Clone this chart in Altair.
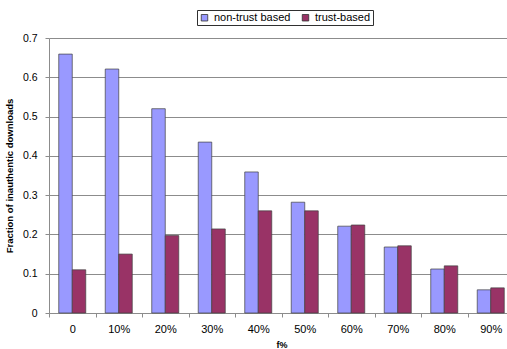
import altair as alt
import pandas as pd

# f% levels on the x axis
categories = ["0", "10%", "20%", "30%", "40%", "50%", "60%", "70%", "80%", "90%"]
series_names = ["non-trust based", "trust-based"]
series_colors = ["#9999FF", "#993366"]

# fraction of inauthentic downloads per f% level
non_trust = [0.659, 0.621, 0.520, 0.435, 0.359, 0.282, 0.221, 0.168, 0.112, 0.059]
trust = [0.110, 0.150, 0.197, 0.214, 0.260, 0.260, 0.224, 0.171, 0.120, 0.064]

rows = []
for cat, a, b in zip(categories, non_trust, trust):
    rows.append({"f": cat, "series": series_names[0], "value": a})
    rows.append({"f": cat, "series": series_names[1], "value": b})
df = pd.DataFrame(rows)

FONT = "Liberation Sans"
GRID = "#8c8c8c"

chart = (
    alt.Chart(df)
    .mark_bar(stroke="#404040", strokeWidth=0.7)
    .encode(
        x=alt.X(
            "f:N",
            sort=categories,
            scale=alt.Scale(range=[0, 465], paddingInner=0, paddingOuter=0),
            axis=alt.Axis(
                title="f%",
                titleFontWeight="bold",
                titleFontSize=9,
                titleFont=FONT,
                titlePadding=6,
                labelAngle=0,
                labelFont=FONT,
                labelFontSize=11,
                labelColor="#000000",
                labelPadding=6,
                tickBand="extent",
                tickSize=4,
                tickColor=GRID,
                domainColor=GRID,
                grid=False,
            ),
        ),
        xOffset=alt.XOffset(
            "series:N",
            sort=series_names,
            scale=alt.Scale(paddingInner=0, paddingOuter=0.722),
        ),
        y=alt.Y(
            "value:Q",
            scale=alt.Scale(domain=[0, 0.7], nice=False),
            axis=alt.Axis(
                title="Fraction of inauthentic downloads",
                titleFontWeight="bold",
                titleFontSize=9.5,
                titleFont=FONT,
                titlePadding=8,
                values=[0, 0.1, 0.2, 0.3, 0.4, 0.5, 0.6, 0.7],
                format=".1~f",
                labelFont=FONT,
                labelFontSize=10.5,
                labelColor="#000000",
                labelPadding=8,
                tickSize=4,
                tickColor=GRID,
                domainColor=GRID,
                gridColor=GRID,
                gridWidth=1,
            ),
        ),
        color=alt.Color(
            "series:N",
            sort=series_names,
            scale=alt.Scale(domain=series_names, range=series_colors),
            legend=alt.Legend(
                title=None,
                orient="none",
                legendX=148,
                legendY=-28,
                direction="horizontal",
                symbolType="square",
                symbolSize=42,
                symbolStrokeColor="#303030",
                symbolStrokeWidth=0.8,
                labelFont=FONT,
                labelFontSize=11,
                labelColor="#000000",
                labelOffset=4,
                columnPadding=9,
                padding=2,
                strokeColor="#303030",
                fillColor="#ffffff",
            ),
        ),
    )
    .properties(
        width=458,
        height=275,
        padding={"left": 49, "top": 38, "right": 0, "bottom": 36},
        autosize=alt.AutoSizeParams(type="none"),
        background="#ffffff",
    )
    .configure_view(stroke=None)
)

chart.save("out.html", embed_options={"renderer": "svg", "actions": False})
